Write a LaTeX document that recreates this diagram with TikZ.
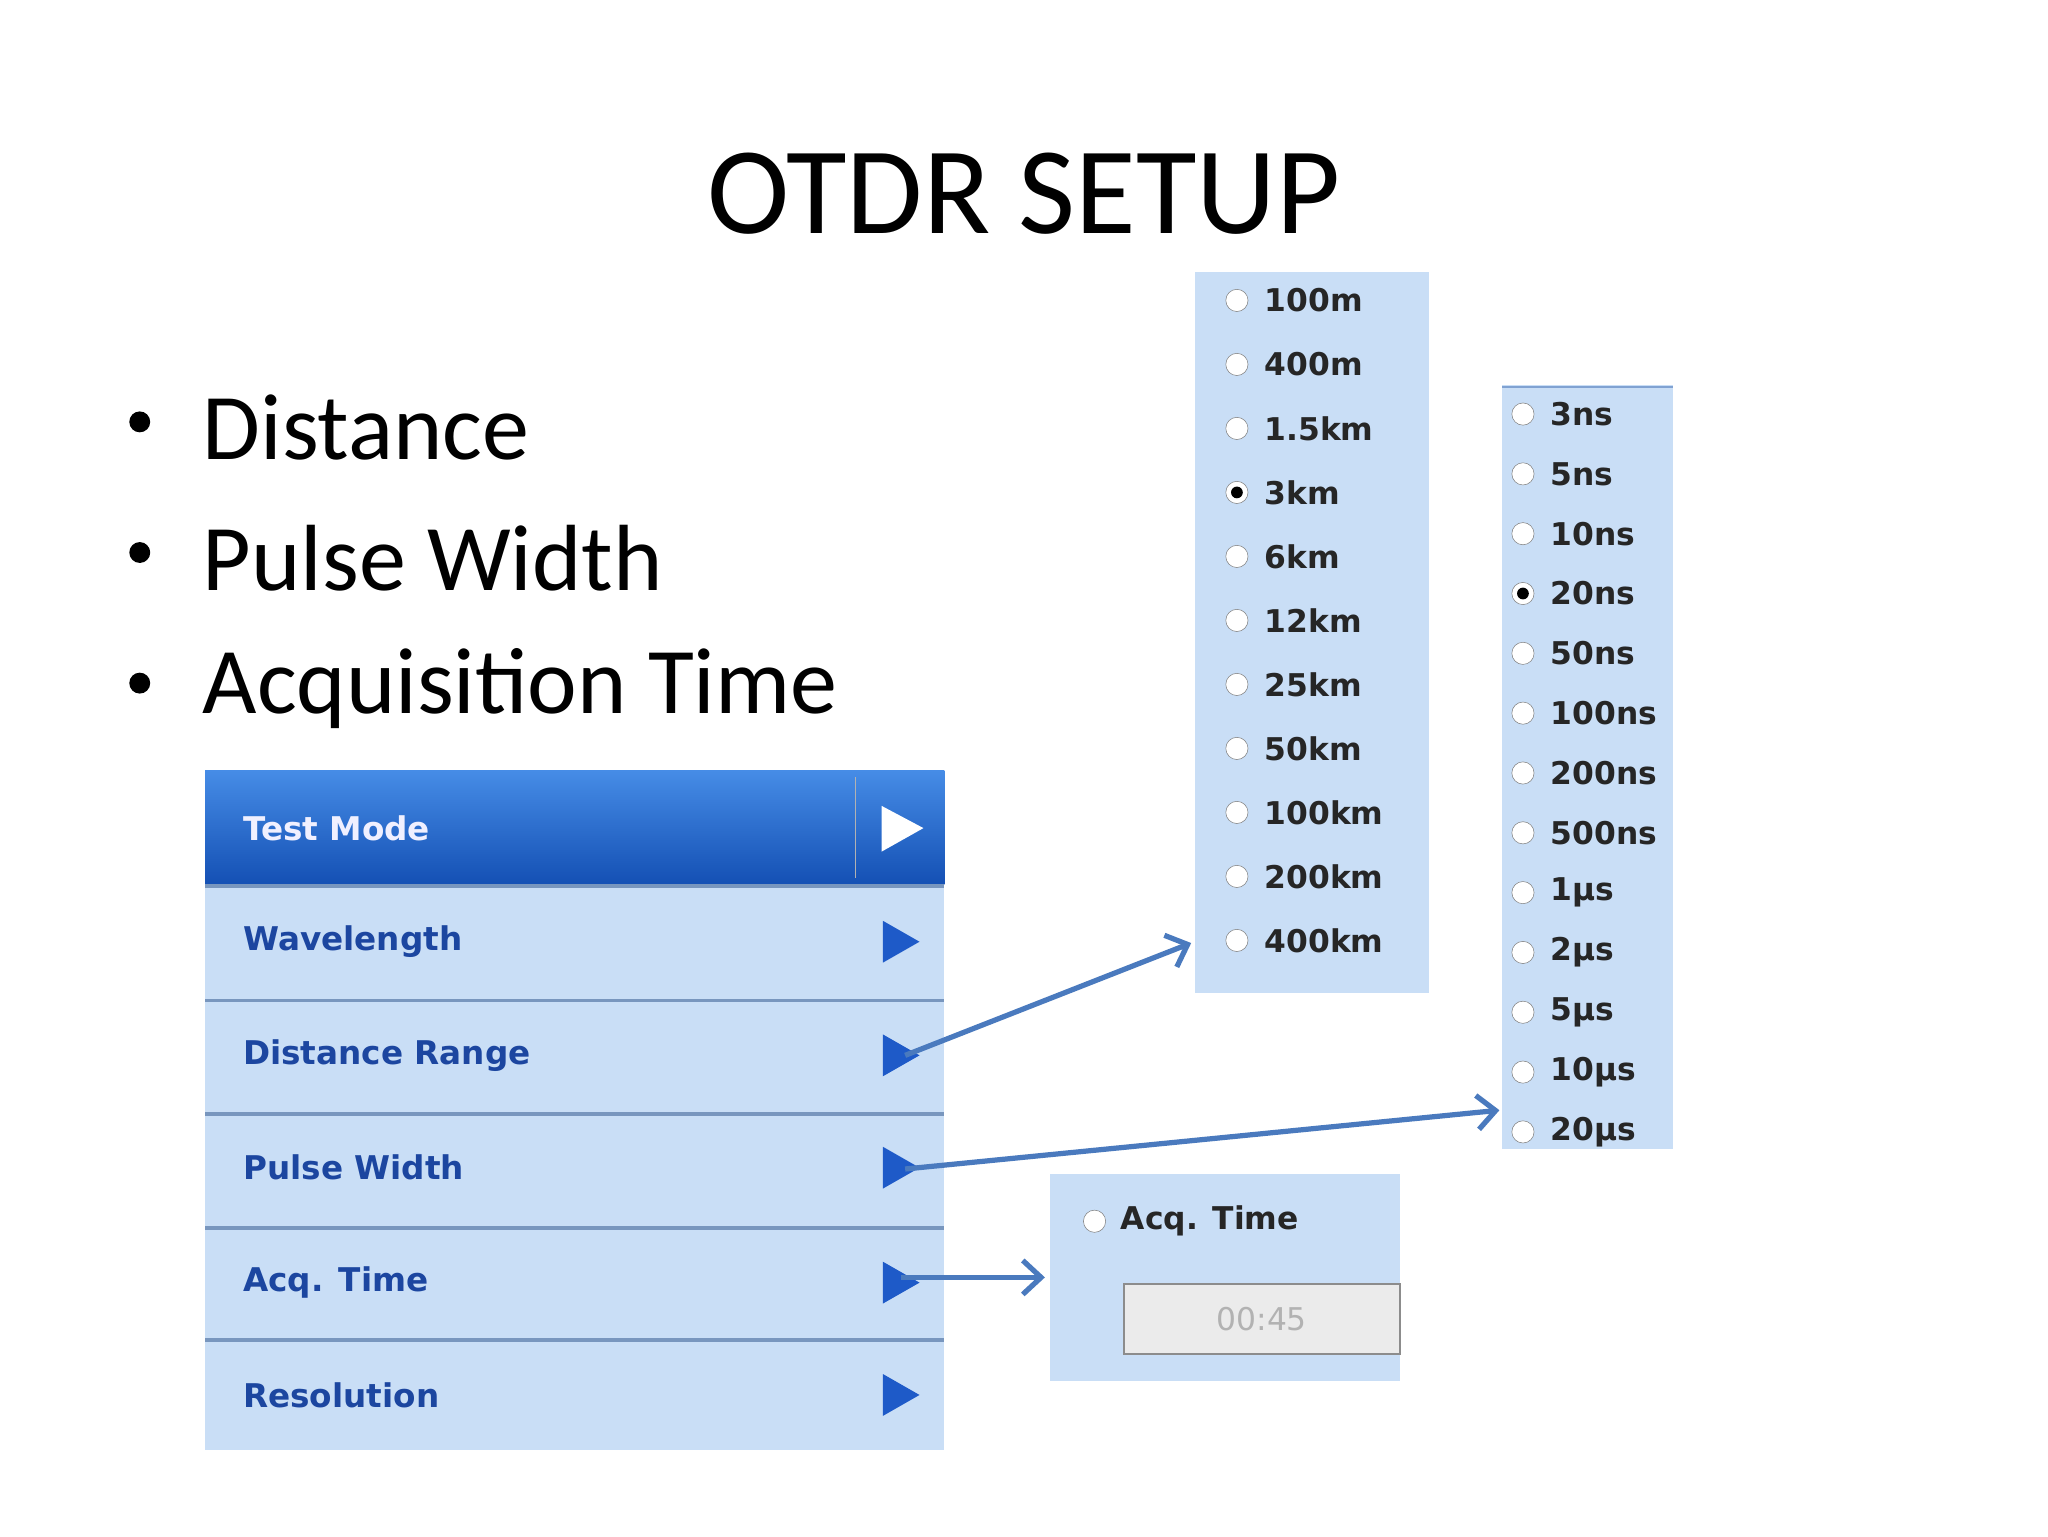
\documentclass[tikz,border=0pt]{standalone}
\usepackage{fontspec}
\setmainfont{Carlito}
\newfontfamily\uifont{DejaVu Sans}
\usetikzlibrary{arrows.meta}
\definecolor{pane}{RGB}{201,222,246}
\definecolor{menutext}{RGB}{28,70,160}
\definecolor{sepc}{RGB}{120,150,190}
\definecolor{arrc}{RGB}{74,122,190}
\definecolor{tri}{RGB}{30,90,200}
\tikzset{
 opt/.style={anchor=west,font=\uifont\bfseries\fontsize{24}{24}\selectfont,text=black!85,inner sep=0},
 menuitem/.style={anchor=west,font=\uifont\bfseries\fontsize{25}{25}\selectfont,text=menutext,inner sep=0},
 radio/.style={draw=black!50,fill=white,circle,minimum size=17pt,inner sep=0},
 conn/.style={draw=arrc,line width=4pt,-{Straight Barb[length=14pt,width=26pt,line width=4pt]}},
 bullet/.style={anchor=west,font=\fontsize{72}{72}\selectfont,inner sep=0}
}
\begin{document}
\begin{tikzpicture}[x=1pt,y=-1pt]
\useasboundingbox (0,0) rectangle (1568,1176);
\fill[white] (0,0) rectangle (1568,1176);
\node[font=\fontsize{95}{95}\selectfont] (title) at (784,148) {OTDR SETUP};
\foreach \t/\y [count=\i] in {Distance/327,Pulse Width/427,Acquisition Time/527}{
 \node[circle,fill=black,inner sep=0,minimum size=16pt] (b\i) at (107,\y-4) {};
 \node[bullet] (bt\i) at (155,\y) {\t};
}
% menu
\fill[pane] (157,590) rectangle (723,1110);
\shade[top color={rgb,255:red,70;green,140;blue,230},bottom color={rgb,255:red,20;green,80;blue,180}] (157,590) rectangle (723,677);
\draw[black!30,line width=1pt] (655,595) -- (655,672);
\foreach \y in {678,766,853,940,1026}{\draw[sepc,line width=3pt] (157,\y) -- (723,\y);}
\node[menuitem,text=white!90!blue!60] (m1) at (186,634) {Test Mode};
\node[menuitem] (m2) at (186,721) {Wavelength};
\node[menuitem] (m3) at (186,808) {Distance Range};
\node[menuitem] (m4) at (186,894) {Pulse Width};
\node[menuitem] (m5) at (186,982) {Acq. Time};
\node[menuitem] (m6) at (186,1068) {Resolution};
\fill[white] (675,617) -- (707,634) -- (675,652) -- cycle;
\foreach \y in {721,808,894,982,1068}{\fill[tri] (676,\y-16) -- (704,\y) -- (676,\y+16) -- cycle;}
\coordinate (s3) at (693,808);
\coordinate (s4) at (693,895);
\coordinate (s5) at (690,978);
% distance panel
\fill[pane] (915,208) rectangle (1094,760);
\foreach \t [count=\i] in {100m,400m,1.5km,3km,6km,12km,25km,50km,100km,200km,400km}{
 \pgfmathsetmacro\yy{230+49*(\i-1)}
 \node[radio] (dr\i) at (947,\yy) {};
 \node[opt] (d\i) at (968,\yy) {\t};
}
\fill[black] (dr4) circle (4.5pt);
\coordinate (dtarget) at (912,722);
% pulse panel
\fill[pane] (1150,295) rectangle (1281,880);
\draw[arrc!70,line width=1.5pt] (1150,296) -- (1281,296);
\foreach \t [count=\i] in {3ns,5ns,10ns,20ns,50ns,100ns,200ns,500ns,1μs,2μs,5μs,10μs,20μs}{
 \pgfmathsetmacro\yy{317+45.8*(\i-1)}
 \node[radio] (pr\i) at (1166,\yy) {};
 \node[opt] (p\i) at (1187,\yy) {\t};
}
\fill[black] (pr4) circle (4.5pt);
\coordinate (ptarget) at (1148,850);
% acq panel
\fill[pane] (804,899) rectangle (1072,1057);
\node[radio] (ar) at (838,935) {};
\node[opt] (at) at (858,935) {Acq. Time};
\node[draw=black!45,line width=1.5pt,fill=black!8,minimum width=211pt,minimum height=54pt,inner sep=0,font=\uifont\fontsize{24}{24}\selectfont,text=black!30] (box) at (966,1010) {00:45};
\coordinate (atarget) at (800,978);
\draw[conn] (s3) -- (dtarget);
\draw[conn] (s4) -- (ptarget);
\draw[conn] (s5) -- (atarget);
\end{tikzpicture}
\end{document}
